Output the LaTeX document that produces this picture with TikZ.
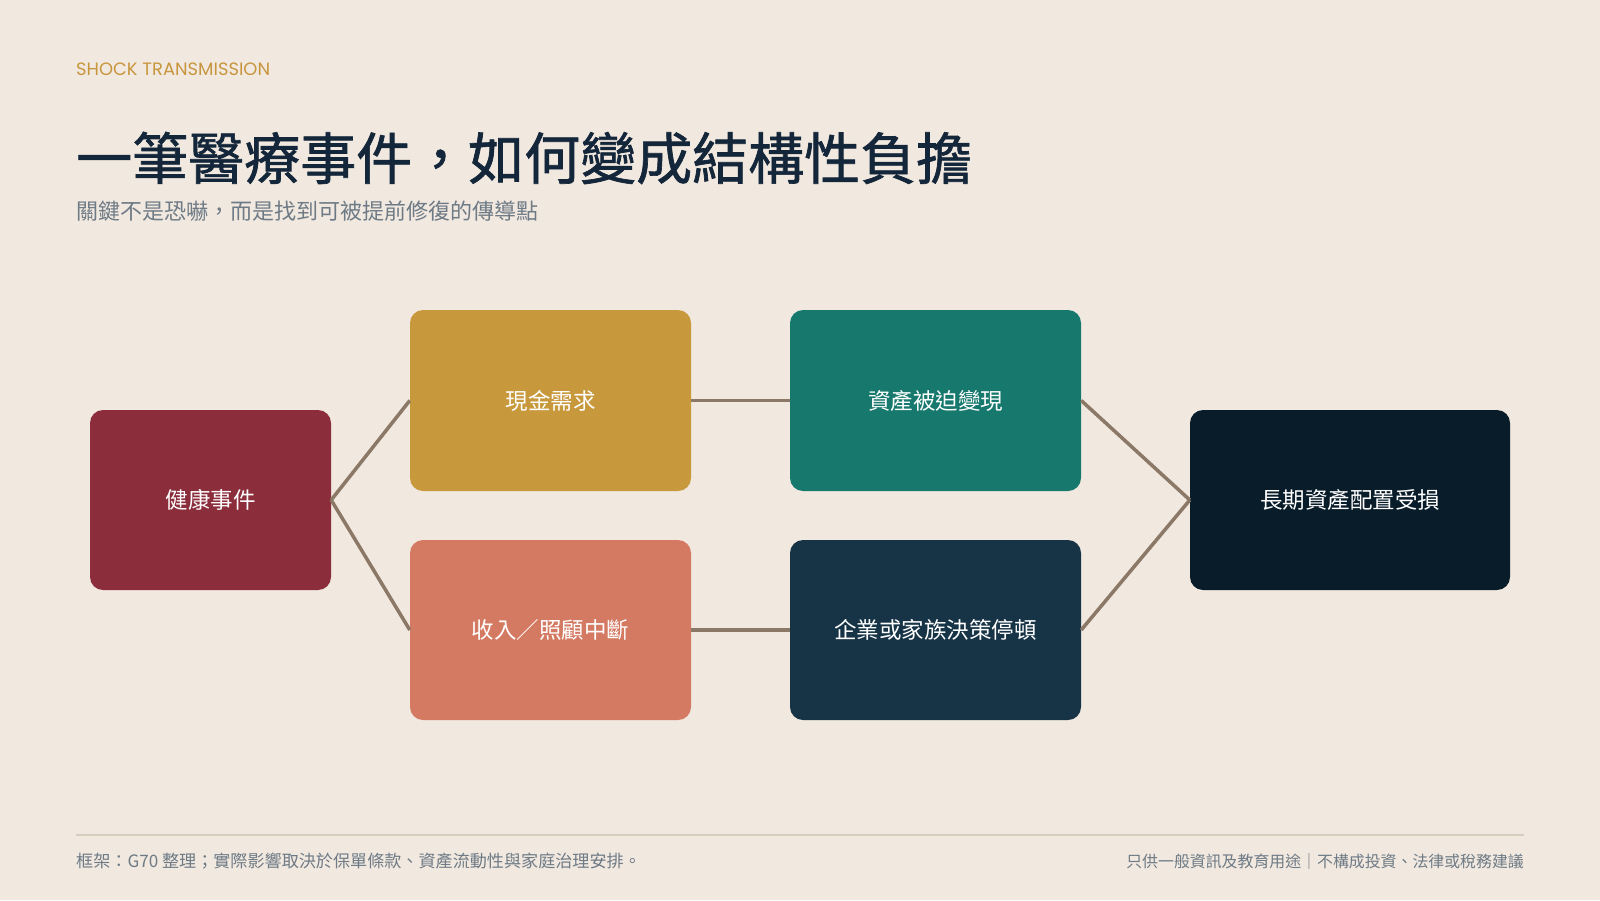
\documentclass[tikz,border=0pt]{standalone}
\usepackage{fontspec}
\setmainfont{Noto Sans CJK TC}
\newfontfamily\kickfont{Poppins}
\newfontfamily\titlefont{Noto Sans CJK TC}[FakeBold=1.2]
\definecolor{bg}{HTML}{F1E8DF}
\definecolor{cred}{HTML}{8B2D3B}
\definecolor{cgold}{HTML}{C8983C}
\definecolor{ccoral}{HTML}{D47A63}
\definecolor{cteal}{HTML}{17796E}
\definecolor{cnavy}{HTML}{173447}
\definecolor{cdark}{HTML}{081C2A}
\definecolor{cline}{HTML}{8B7866}
\definecolor{crule}{HTML}{D9CDBF}
\definecolor{ctitle}{HTML}{13263A}
\definecolor{csub}{HTML}{6E7B86}
\definecolor{ckick}{HTML}{C8963E}
\begin{document}
\begin{tikzpicture}[x=1pt,y=-1pt,
  box/.style={rectangle, rounded corners=13pt, inner sep=0pt, text=white,
    font=\fontsize{22.5}{26}\selectfont},
  link/.style={draw=cline, line width=3.5pt},
  txt/.style={inner sep=0pt, anchor=west}]
\fill[bg] (0,0) rectangle (1600,900);
\useasboundingbox (0,0) rectangle (1600,900);

\node[txt, text=ckick, font=\kickfont\fontsize{17.9}{21}\selectfont] (kick) at (76,69.5) {SHOCK TRANSMISSION};
\node[txt, text=ctitle, font=\titlefont\fontsize{56}{60}\selectfont] (title) at (76,158) {一筆醫療事件，如何變成結構性負擔};
\node[txt, text=csub, font=\fontsize{22}{25}\selectfont] (sub) at (76,211) {關鍵不是恐嚇，而是找到可被提前修復的傳導點};

\node[box, fill=cred, minimum width=241pt, minimum height=180pt] (health) at (210.5,500) {健康事件};
\node[box, fill=cgold, minimum width=281pt, minimum height=181pt] (cash) at (550.5,400.5) {現金需求};
\node[box, fill=ccoral, minimum width=281pt, minimum height=180pt] (income) at (550.5,630) {收入／照顧中斷};
\node[box, fill=cteal, minimum width=291pt, minimum height=181pt] (asset) at (935.5,400.5) {資產被迫變現};
\node[box, fill=cnavy, minimum width=291pt, minimum height=180pt] (decide) at (935.5,630) {企業或家族決策停頓};
\node[box, fill=cdark, minimum width=320pt, minimum height=180pt] (long) at (1350,500) {長期資產配置受損};

\draw[link] (health.east) -- (cash.west);
\draw[link] (health.east) -- (income.west);
\draw[link] (cash.east) -- (asset.west);
\draw[link] (income.east) -- (decide.west);
\draw[link] (asset.east) -- (long.west);
\draw[link] (decide.east) -- (long.west);

\coordinate (rl) at (76,835);
\coordinate (rr) at (1524,835);
\draw[crule, line width=1.5pt] (rl) -- (rr);

\node[txt, text=csub, font=\fontsize{17.1}{20}\selectfont] (foot1) at (76,861) {框架：G70 整理；實際影響取決於保單條款、資產流動性與家庭治理安排。};
\node[inner sep=0pt, anchor=east, text=csub, font=\fontsize{15.9}{19}\selectfont] (foot2) at (1524,861) {只供一般資訊及教育用途｜不構成投資、法律或稅務建議};
\end{tikzpicture}
\end{document}
